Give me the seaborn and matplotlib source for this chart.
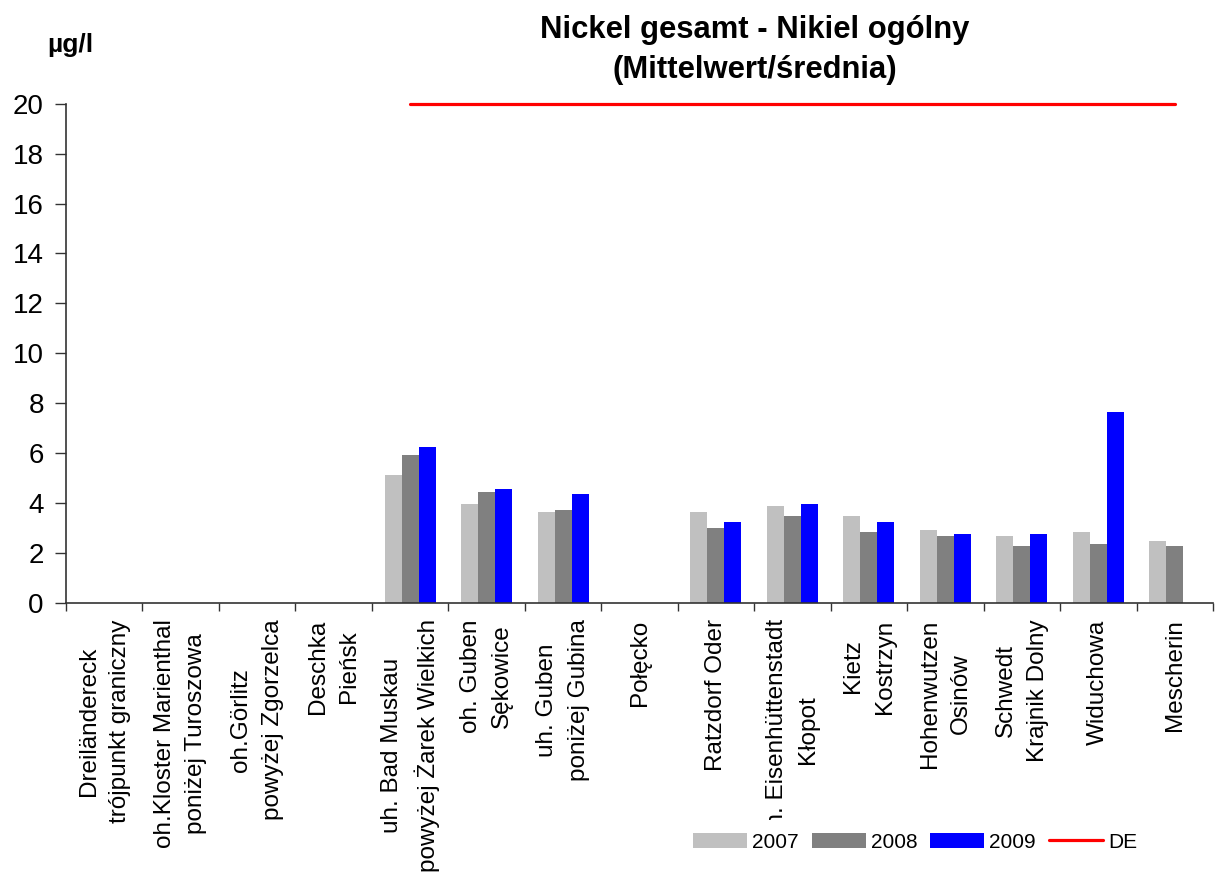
import matplotlib
matplotlib.use("Agg")
import matplotlib.pyplot as plt
import numpy as np
import pandas as pd
import seaborn as sns
from matplotlib.lines import Line2D
from matplotlib.patches import Patch

# --- data -----------------------------------------------------------------
stations = [
    "Dreiländereck\ntrójpunkt graniczny",
    "oh.Kloster Marienthal\nponiżej Turoszowa",
    "oh.Görlitz\npowyżej Zgorzelca",
    "Deschka\nPieńsk",
    "uh. Bad Muskau\npowyżej Żarek Wielkich",
    "oh. Guben\nSękowice",
    "uh. Guben\nponiżej Gubina",
    "Połęcko",
    "Ratzdorf Oder",
    "uh. Eisenhüttenstadt\nKłopot",
    "Kietz\nKostrzyn",
    "Hohenwutzen\nOsinów",
    "Schwedt\nKrajnik Dolny",
    "Widuchowa",
    "Mescherin",
]
years = ["2007", "2008", "2009"]
nan = np.nan
ni_2007 = [nan, nan, nan, nan, 5.12, 3.96, 3.64, nan, 3.64, 3.88, 3.48, 2.92, 2.68, 2.84, 2.48]
ni_2008 = [nan, nan, nan, nan, 5.92, 4.44, 3.72, nan, 3.00, 3.48, 2.84, 2.68, 2.28, 2.36, 2.28]
ni_2009 = [nan, nan, nan, nan, 6.24, 4.56, 4.36, nan, 3.24, 3.96, 3.24, 2.76, 2.76, 7.64, nan]
de_limit = [nan, nan, nan, nan, 20, 20, 20, 20, 20, 20, 20, 20, 20, 20, 20]
y_ticks = list(range(0, 21, 2))

colors = {"2007": "#C0C0C0", "2008": "#808080", "2009": "#0000FF"}
de_color = "#FF0000"

# long-form table for seaborn
df = pd.DataFrame({
    "station": stations * 3,
    "year": [y for y in years for _ in stations],
    "value": ni_2007 + ni_2008 + ni_2009,
}).dropna()

sns.set_style("white")
plt.rcParams["font.family"] = ["Liberation Sans", "DejaVu Sans"]
plt.rcParams["text.color"] = "black"

fig = plt.figure(figsize=(12.15, 8.77), dpi=100)
ax = fig.add_axes([66 / 1215, 1 - 602.7 / 877, (1213 - 66) / 1215, (602.7 - 103.7) / 877])

sns.barplot(
    data=df, x="station", y="value", hue="year",
    order=stations, hue_order=years, palette=colors,
    saturation=1, width=0.667, errorbar=None, ax=ax, legend=False,
)
for p in ax.patches:
    p.set_linewidth(0)

ax.plot(np.arange(len(stations)), de_limit, color=de_color, lw=2.3, clip_on=False, zorder=5)

ax.set_xlim(-0.5, len(stations) - 0.5)
ax.set_ylim(0, 20)
ax.set_yticks(y_ticks)
ax.set_xlabel("")
ax.set_ylabel("")

for s in ["top", "right"]:
    ax.spines[s].set_visible(False)
for s in ["left", "bottom"]:
    ax.spines[s].set_color("#333333")
    ax.spines[s].set_linewidth(1.2)

ax.tick_params(axis="y", which="major", direction="out", length=8, width=1,
               color="#333333", labelcolor="black", labelsize=20, pad=8, left=True)
ax.set_xticks(np.arange(len(stations)))
ax.set_xticklabels(stations, rotation=90, fontsize=17.5, ha="center", va="top",
                   multialignment="center", linespacing=1.55)
ax.tick_params(axis="x", which="major", length=0, pad=12, labelcolor="black")
ax.set_xticks(np.arange(len(stations) + 1) - 0.5, minor=True)
ax.tick_params(axis="x", which="minor", direction="out", length=6, width=1,
               color="#333333", bottom=True)

fig.text(755 / 1215, 1 - 50 / 877, "Nickel gesamt - Nikiel ogólny\n(Mittelwert/średnia)",
         ha="center", va="center", fontsize=22.3, fontweight="bold", linespacing=1.45)
fig.text(70 / 1215, 1 - 45 / 877, "µg/l", ha="center", va="center",
         fontsize=19, fontweight="bold")

handles = [Patch(facecolor=colors[y], edgecolor="none") for y in years]
handles.append(Line2D([0], [0], color=de_color, lw=2.3))
leg = fig.legend(handles, years + ["DE"], ncol=4, loc="center",
                 bbox_to_anchor=(915 / 1215, 1 - 842 / 877),
                 fontsize=15, handlelength=2.6, handleheight=0.7,
                 handletextpad=0.25, columnspacing=0.6, borderpad=0.6,
                 frameon=True, fancybox=False)
leg.get_frame().set_facecolor("white")
leg.get_frame().set_edgecolor("none")
leg.get_frame().set_alpha(1)

fig.savefig("out.png", dpi=100)
